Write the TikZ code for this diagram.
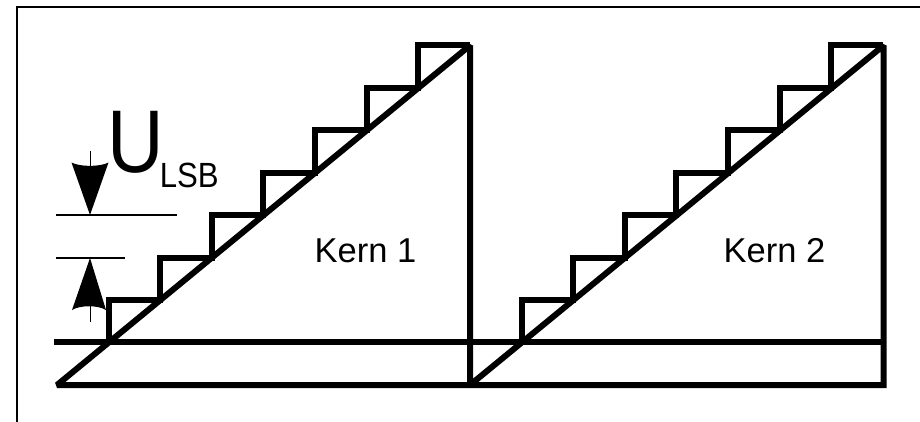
\documentclass[tikz,border=0pt]{standalone}
\usepackage{fontspec}
\setmainfont{Liberation Sans}
\begin{document}
\begin{tikzpicture}[x=1pt,y=-1pt,
  thickline/.style={line width=6pt, line join=miter, miter limit=1.5},
  frameline/.style={line width=1.8pt},
  dimline/.style={line width=1.4pt},
  lbl/.style={inner sep=0pt, anchor=base, font=\fontsize{34.5}{34.5}\selectfont}]
\useasboundingbox (0,0) rectangle (920,422);
% frame
\draw[frameline] (17,422) -- (17,7) -- (920,7);
% ramps, verticals, base line
\draw[thickline] (470,45.5) -- (57,385) -- (883.5,385) -- (883.5,45.5) -- (470,385) -- cycle;
\draw[thickline, line cap=butt] (54,342) -- (883.5,342);
% staircases
\foreach \xo in {57,470}{
  \draw[thickline] (\xo+51.6,342.56)
    \foreach \k in {1,...,7}{ -- ++(0,-42.44) -- ++(51.6,0) };
}
% dimension lines
\draw[dimline] (56,215) -- (177,215);
\draw[dimline] (56,258) -- (125,258);
% down arrow
\draw[line width=1pt] (90,151) -- (90,166);
\fill (90,215) -- (71.5,162.5) .. controls (80,167) and (100,167) .. (108.5,162.5) -- cycle;
% up arrow
\draw[line width=1pt] (90,300) -- (90,322);
\fill (90,258) -- (72,310) .. controls (80,305) and (98,305) .. (106,310) -- cycle;
% labels
\node[inner sep=0pt, anchor=base west] (u) at (107,172)
  {\scalebox{0.88}[1]{\fontsize{89}{89}\selectfont U}};
\node[inner sep=0pt, anchor=base west] (lsb) at (159.7,188)
  {\scalebox{0.89}[1]{\fontsize{35}{35}\selectfont LSB}};
\node[lbl] (k1) at (365.5,262) {Kern 1};
\node[lbl] (k2) at (774.5,262) {Kern 2};
\end{tikzpicture}
\end{document}
